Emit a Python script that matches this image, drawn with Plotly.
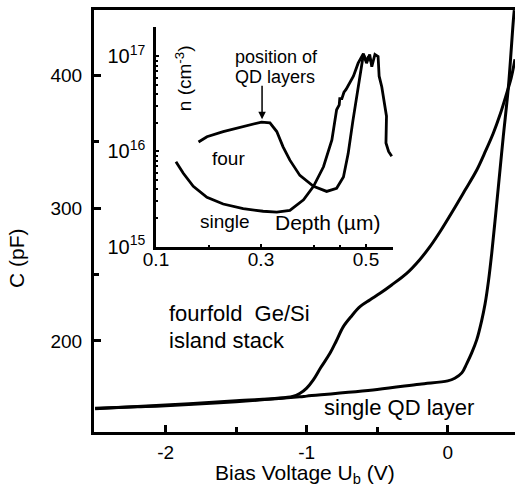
import plotly.graph_objects as go

# ---------------- main panel data: C-V curves ----------------
single_v = [-2.5, -2.2, -2.0, -1.5, -1.05, -1.0, -0.5, -0.2, 0.0, 0.05, 0.1, 0.135, 0.17,
            0.206, 0.24, 0.265, 0.29, 0.312, 0.335, 0.359, 0.394, 0.43, 0.465, 0.472]
single_c = [149.4, 150.5, 151.3, 154.3, 158.0, 158.5, 163.5, 167.5, 170.0, 172.0, 176.0, 183.0, 191.0,
            201.0, 215.0, 228.0, 246.0, 266.0, 290.0, 316.0, 354.0, 391.0, 441.0, 449.0]

four_v = [-2.5, -2.0, -1.5, -1.1, -1.047, -1.0, -0.953, -0.9, -0.835, -0.79, -0.74, -0.68, -0.622,
          -0.55, -0.48, -0.4, -0.291, -0.2, -0.126, -0.05, 0.04, 0.12, 0.206, 0.26, 0.323, 0.37,
          0.418, 0.45, 0.477]
four_c = [149.0, 151.8, 155.0, 158.2, 160.6, 164.5, 170.7, 180.0, 190.7, 200.0, 210.8, 219.0, 225.8,
          231.0, 235.9, 242.0, 250.9, 261.0, 271.0, 283.0, 298.6, 313.0, 328.7, 341.0, 356.3, 370.0,
          386.4, 398.0, 412.0]

# ---------------- inset data: carrier profiles ----------------
in_four_d = [0.181, 0.197, 0.228, 0.266, 0.301, 0.317, 0.330, 0.342, 0.355, 0.374, 0.400, 0.425,
             0.444, 0.457, 0.466, 0.475, 0.485, 0.492, 0.495, 0.500, 0.505, 0.510]
in_four_n = [1.26e16, 1.43e16, 1.62e16, 1.82e16, 2.04e16, 2.0e16, 1.62e16, 1.12e16, 8.1e15, 5.6e15,
             4.3e15, 3.8e15, 4.1e15, 5.4e15, 9.5e15, 2.1e16, 4.8e16, 8.5e16, 1.05e17, 9.0e16,
             1.0e17, 8.8e16]

in_single_d = [0.138, 0.152, 0.171, 0.197, 0.228, 0.266, 0.304, 0.330, 0.355, 0.381, 0.400, 0.419,
               0.435, 0.444, 0.449, 0.450, 0.454, 0.458, 0.462, 0.476, 0.485, 0.495, 0.501, 0.507,
               0.511, 0.517, 0.523, 0.525, 0.530, 0.533, 0.536, 0.539, 0.538, 0.543, 0.549]
in_single_n = [7.8e15, 5.9e15, 4.3e15, 3.3e15, 2.8e15, 2.5e15, 2.35e15, 2.3e15, 2.4e15, 3.1e15,
               4.3e15, 6.9e15, 1.32e16, 2.75e16, 3.1e16, 3.6e16, 3.6e16, 4.2e16, 4.5e16, 6.2e16,
               8.5e16, 1.07e17, 8.5e16, 1.05e17, 7.8e16, 1.05e17, 1.0e17, 6.2e16, 4.8e16, 3.8e16,
               2.75e16, 2.35e16, 1.23e16, 1.0e16, 8.9e15]

main_xticks = [-2, -1, 0]
main_xtext = ["-2", "-1", "0"]
main_yticks = [200, 300, 400]
inset_xticks = [0.1, 0.3, 0.5]
inset_xtext = ["0.1", "0.3", "0.5"]
inset_yticks = [1e15, 1e16, 1e17]
inset_ytext = ["10<sup>15</sup>", "10<sup>16</sup>", "10<sup>17</sup>"]

W, H = 515, 491
FONT = "Liberation Sans, Arial, sans-serif"

fig = go.Figure()
line = dict(color="black", width=3)
fig.add_trace(go.Scatter(x=single_v, y=single_c, mode="lines", line=line, xaxis="x", yaxis="y",
                         line_shape="spline", showlegend=False, hoverinfo="skip"))
fig.add_trace(go.Scatter(x=four_v, y=four_c, mode="lines", line=line, xaxis="x", yaxis="y",
                         line_shape="spline", showlegend=False, hoverinfo="skip"))
fig.add_trace(go.Scatter(x=in_four_d, y=in_four_n, mode="lines", line=dict(color="black", width=2.8),
                         xaxis="x2", yaxis="y2", showlegend=False, hoverinfo="skip"))
fig.add_trace(go.Scatter(x=in_single_d, y=in_single_n, mode="lines", line=dict(color="black", width=2.8),
                         xaxis="x2", yaxis="y2", showlegend=False, hoverinfo="skip"))

def px_x(x):
    return x / W

def px_y(y):
    return (H - y) / H

fig.update_layout(
    template="none",
    width=W, height=H, margin=dict(l=0, r=0, t=0, b=0, pad=0, autoexpand=False),
    paper_bgcolor="white", plot_bgcolor="rgba(0,0,0,0)",
    font=dict(family=FONT, color="black", size=20),
    xaxis=dict(domain=[px_x(94), 1.0], range=[-2.508, 0.477], showgrid=False, zeroline=False,
               automargin=False,
               showline=True, linecolor="black", linewidth=3, mirror=True,
               ticks="inside", ticklen=7, tickwidth=2.5, tickcolor="black",
               tickvals=main_xticks, ticktext=main_xtext, ticklabelstandoff=1,
               tickfont=dict(size=19),
               minor=dict(tickvals=[-1.5, -0.5], ticks="inside", ticklen=5, tickwidth=2.5,
                          tickcolor="black", showgrid=False)),
    yaxis=dict(domain=[px_y(432), px_y(10)], range=[131.5, 449.1], showgrid=False, zeroline=False,
               automargin=False,
               showline=True, linecolor="black", linewidth=3,
               ticks="inside", ticklen=7, tickwidth=2.5, tickcolor="black",
               tickvals=main_yticks, ticklabelstandoff=5, tickfont=dict(size=19),
               minor=dict(tickvals=[250, 350], ticks="inside", ticklen=5, tickwidth=2.5,
                          tickcolor="black", showgrid=False)),
    xaxis2=dict(domain=[px_x(156), px_x(393)], range=[0.1, 0.5514], anchor="y2",
                automargin=False,
                showgrid=False, zeroline=False, showline=True, linecolor="black", linewidth=2.5,
                ticks="inside", ticklen=3, tickwidth=2, tickcolor="black",
                tickvals=inset_xticks, ticktext=inset_xtext, ticklabelstandoff=-6,
                tickfont=dict(size=19),
                minor=dict(tickvals=[0.2, 0.4, 0.45, 0.55], ticks="inside", ticklen=2, tickwidth=2,
                           tickcolor="black", showgrid=False)),
    yaxis2=dict(domain=[px_y(246.5), px_y(27)], type="log", range=[15, 17.31], anchor="x2",
                automargin=False,
                showgrid=False, zeroline=False, showline=True, linecolor="black", linewidth=2.5,
                ticks="inside", ticklen=3, tickwidth=2, tickcolor="black",
                tickvals=inset_yticks, ticktext=inset_ytext, ticklabelstandoff=4,
                tickfont=dict(size=20),
                minor=dict(tickvals=[k * 10 ** d for d in (15, 16) for k in range(2, 10)],
                           ticks="inside", ticklen=2, tickwidth=2, tickcolor="black",
                           showgrid=False)),
)

ann = []
# main panel texts
ann.append(dict(text="fourfold  Ge/Si", x=-1.99, y=221, xref="x", yref="y", xanchor="left",
                yanchor="middle", showarrow=False, font=dict(size=22)))
ann.append(dict(text="island stack", x=-1.99, y=200, xref="x", yref="y", xanchor="left",
                yanchor="middle", showarrow=False, font=dict(size=22)))
ann.append(dict(text="single QD layer", x=-0.891, y=149.6, xref="x", yref="y", xanchor="left",
                yanchor="middle", showarrow=False, font=dict(size=22)))
ann.append(dict(text="Bias Voltage U<sub>b</sub> (V)", x=px_x(305), y=px_y(474), xref="paper",
                yref="paper", xanchor="center", yanchor="middle", showarrow=False,
                font=dict(size=21)))
ann.append(dict(text="C (pF)", x=px_x(16), y=px_y(258), xref="paper", yref="paper",
                xanchor="center", yanchor="middle", textangle=-90, showarrow=False,
                font=dict(size=21)))
# inset texts
ann.append(dict(text="position of", x=0.330, y=16.99, xref="x2", yref="y2", xanchor="center",
                yanchor="middle", showarrow=False, font=dict(size=18)))
ann.append(dict(text="QD layers", x=0.327, y=16.78, xref="x2", yref="y2", xanchor="center",
                yanchor="middle", showarrow=False, font=dict(size=18)))
ann.append(dict(text="", x=0.302, y=16.34, xref="x2", yref="y2", showarrow=True,
                ax=0, ay=-35, arrowhead=2, arrowsize=1, arrowwidth=1.5, arrowcolor="black"))
ann.append(dict(text="four", x=0.239, y=15.93, xref="x2", yref="y2", xanchor="center",
                yanchor="middle", showarrow=False, font=dict(size=19)))
ann.append(dict(text="single", x=0.231, y=15.26, xref="x2", yref="y2", xanchor="center",
                yanchor="middle", showarrow=False, font=dict(size=19)))
ann.append(dict(text="Depth (\u00b5m)", x=0.426, y=15.25, xref="x2", yref="y2", xanchor="center",
                yanchor="middle", showarrow=False, font=dict(size=21)))
ann.append(dict(text="n (cm<sup>-3</sup>)", x=0.153, y=16.77, xref="x2", yref="y2",
                xanchor="center", yanchor="middle", textangle=-90, showarrow=False,
                font=dict(size=19)))
fig.update_layout(annotations=ann)

fig.write_html("out.html", config={"displayModeBar": False},
               post_script="document.body.style.margin='0px';document.body.style.overflow='hidden';")
